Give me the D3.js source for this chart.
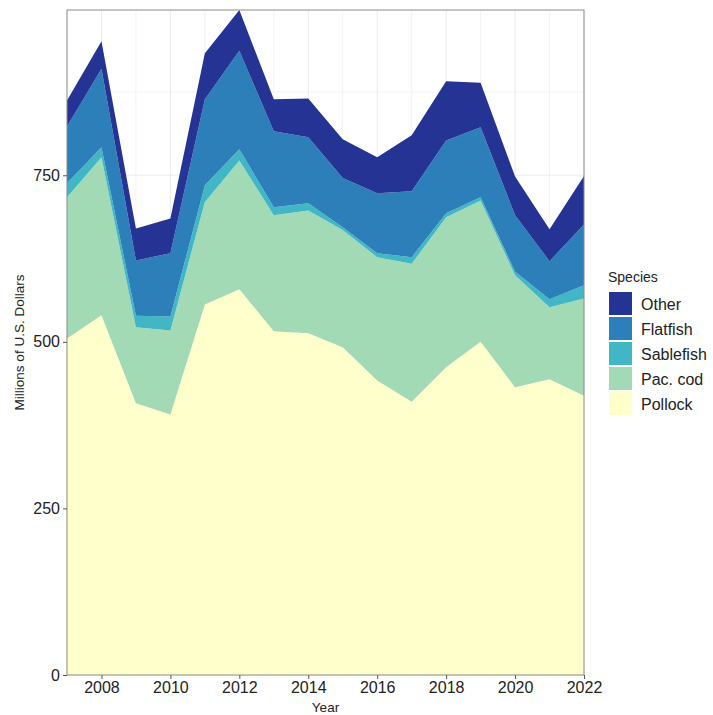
<!DOCTYPE html>
<html>
<head>
<meta charset="utf-8">
<script src="https://cdn.jsdelivr.net/npm/d3@7"></script>
<style>
  body { margin: 0; background: #fff; }
  svg { font-family: "Liberation Sans", Arial, sans-serif; }
</style>
</head>
<body>
<svg id="chart" width="713" height="715"></svg>
<script>
// values, millions of US dollars
const years = [2007, 2008, 2009, 2010, 2011, 2012, 2013, 2014, 2015, 2016, 2017, 2018, 2019, 2020, 2021, 2022]
const pollock = [505, 540, 408, 391, 556, 579, 516, 513, 492, 442, 410, 462, 500, 432, 444, 419]
const pacCod = [212, 237, 114, 126, 154, 193, 174, 184, 176, 185, 207, 225, 212, 168, 108, 146]
const sablefish = [21, 15, 17, 21, 25, 17, 12, 11, 4, 6, 10, 6, 5, 5, 12, 20]
const flatfish = [85, 118, 83, 95, 129, 148, 114, 99, 74, 90, 99, 109, 105, 85, 57, 91]
const other = [39, 41, 48, 52, 69, 61, 48, 58, 58, 54, 84, 89, 67, 58, 48, 73]

const species = ["Pollock", "Pac. cod", "Sablefish", "Flatfish", "Other"]
const colors = ["#ffffcc", "#a1dab4", "#41b6c4", "#2c7fb8", "#253494"]
const yTicks = [0, 250, 500, 750]
const xTicks = [2008, 2010, 2012, 2014, 2016, 2018, 2020, 2022]

const series = [pollock, pacCod, sablefish, flatfish, other]
const rows = years.map((y, i) => {
  const r = { year: y }
  species.forEach((s, j) => r[s] = series[j][i])
  return r
})

const svg = d3.select("#chart")
const margin = { left: 67, right: 129, top: 10, bottom: 40 }
const W = 713, H = 715

const stack = d3.stack().keys(species)
const layers = stack(rows)
const maxTotal = d3.max(layers[layers.length - 1], d => d[1])

const x = d3.scaleLinear().domain(d3.extent(years)).range([margin.left, W - margin.right])
const y = d3.scaleLinear().domain([0, maxTotal]).range([H - margin.bottom, margin.top])
const color = d3.scaleOrdinal().domain(species).range(colors)

// gridlines
const grid = svg.append("g")
d3.range(2007, 2023).forEach(v => {
  grid.append("line").attr("x1", x(v)).attr("x2", x(v))
    .attr("y1", y.range()[0]).attr("y2", y.range()[1])
    .attr("stroke", "#ebebeb").attr("stroke-width", v % 2 === 0 ? 1 : 0.6)
})
d3.range(0, maxTotal, 125).forEach(v => {
  grid.append("line").attr("y1", y(v)).attr("y2", y(v))
    .attr("x1", x.range()[0]).attr("x2", x.range()[1])
    .attr("stroke", "#ebebeb").attr("stroke-width", v % 250 === 0 ? 1 : 0.6)
})

const area = d3.area()
  .x(d => x(d.data.year))
  .y0(d => y(d[0]))
  .y1(d => y(d[1]))

svg.append("g").selectAll("path")
  .data(layers)
  .join("path")
  .attr("d", area)
  .attr("fill", d => color(d.key))

// panel border
svg.append("rect")
  .attr("x", x.range()[0]).attr("y", y.range()[1])
  .attr("width", x.range()[1] - x.range()[0])
  .attr("height", y.range()[0] - y.range()[1])
  .attr("fill", "none").attr("stroke", "#8c8c8c").attr("stroke-width", 1)

// axes
const xAxis = svg.append("g")
  .attr("transform", `translate(0,${y.range()[0]})`)
  .call(d3.axisBottom(x).tickValues(xTicks).tickFormat(d3.format("d")).tickSize(4).tickPadding(3))
const yAxis = svg.append("g")
  .attr("transform", `translate(${x.range()[0]},0)`)
  .call(d3.axisLeft(y).tickValues(yTicks).tickSize(4).tickPadding(3))

for (const g of [xAxis, yAxis]) {
  g.select(".domain").remove()
  g.selectAll(".tick line").attr("stroke", "#555")
  g.selectAll(".tick text").attr("fill", "#222").style("font-size", "16px")
    .style("font-family", "'Liberation Sans', Arial, sans-serif")
}

svg.append("text")
  .attr("x", (x.range()[0] + x.range()[1]) / 2).attr("y", 712)
  .attr("text-anchor", "middle").attr("fill", "#222").style("font-size", "13.5px")
  .text("Year")
svg.append("text")
  .attr("transform", `translate(24,${(y.range()[0] + y.range()[1]) / 2}) rotate(-90)`)
  .attr("text-anchor", "middle").attr("fill", "#222").style("font-size", "13.5px")
  .text("Millions of U.S. Dollars")

// legend
const legend = svg.append("g").attr("transform", "translate(608,270)")
legend.append("text").attr("x", 0).attr("y", 12).attr("fill", "#222")
  .style("font-size", "14px").text("Species")
const legendOrder = species.slice().reverse()
legendOrder.forEach((s, i) => {
  legend.append("rect").attr("x", 1).attr("y", 22 + i * 25)
    .attr("width", 23).attr("height", 23).attr("fill", color(s))
  legend.append("text").attr("x", 33).attr("y", 22 + i * 25 + 17.5)
    .attr("fill", "#222").style("font-size", "16px").text(s)
})
</script>
</body>
</html>
